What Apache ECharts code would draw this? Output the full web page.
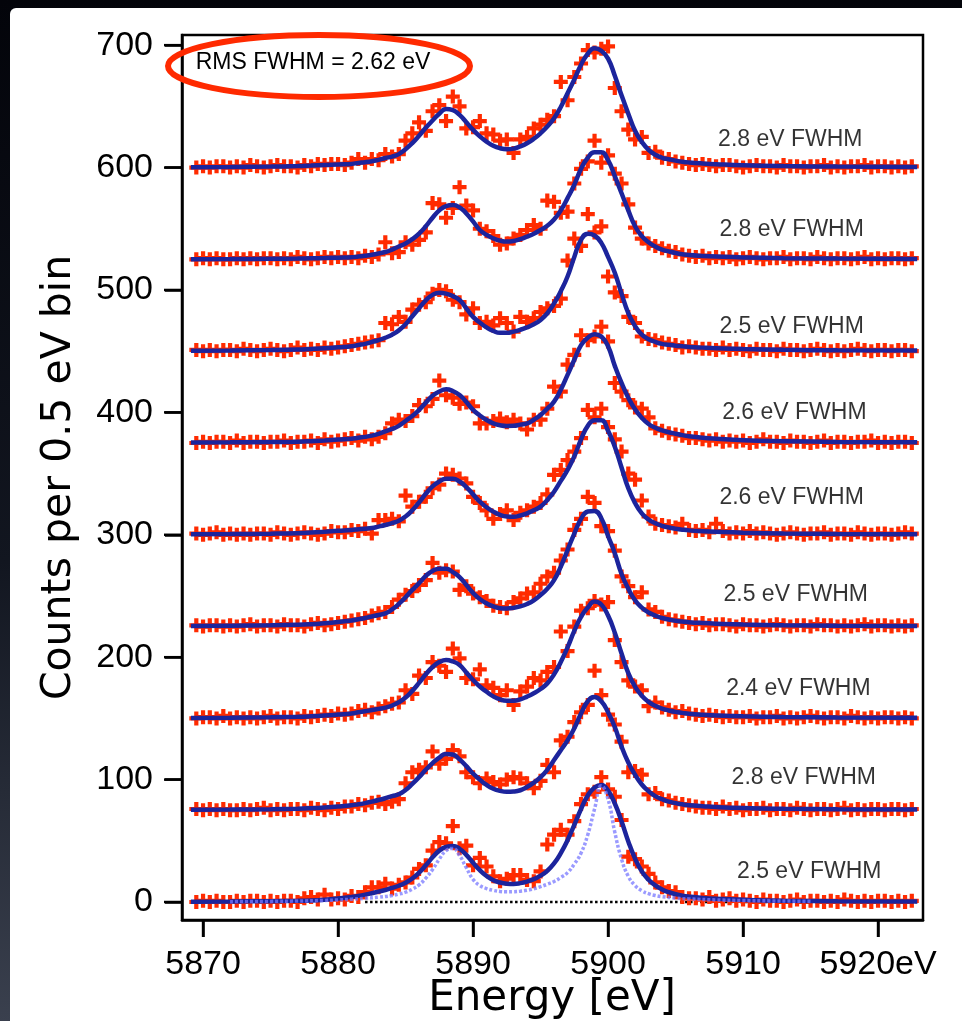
<!DOCTYPE html>
<html><head><meta charset="utf-8">
<script src="https://cdn.jsdelivr.net/npm/echarts@6.0.0/dist/echarts.min.js"></script>
<style>
html,body{margin:0;padding:0;width:962px;height:1021px;overflow:hidden;background:linear-gradient(to bottom,#03040a 0%,#121620 55%,#3a404e 100%);}
#paper{position:absolute;left:10px;top:8px;width:952px;height:1013px;background:#fff;border-top-left-radius:6px;}
#chart{position:absolute;left:0;top:0;width:962px;height:1021px;}
</style></head><body><div id="paper"></div><div id="chart"></div>
<script>
// ---- data ----
const ENERGY = [5869.5,5870,5870.5,5871,5871.5,5872,5872.5,5873,5873.5,5874,5874.5,5875,5875.5,5876,5876.5,5877,5877.5,5878,5878.5,5879,5879.5,5880,5880.5,
5881,5881.5,5882,5882.5,5883,5883.5,5884,5884.5,5885,5885.5,5886,5886.5,5887,5887.5,5888,5888.5,5889,5889.5,5890,5890.5,5891,5891.5,5892,5892.5,5893,5893.5,5894,5894.5,5895,5895.5,5896,5896.5,5897,5897.5,5898,5898.5,5899,5899.5,5900,5900.5,5901,5901.5,5902,5902.5,5903,5903.5,5904,5904.5,5905,5905.5,5906,
5906.5,5907,5907.5,5908,5908.5,5909,5909.5,5910,5910.5,5911,5911.5,5912,5912.5,5913,5913.5,5914,5914.5,5915,5915.5,5916,5916.5,5917,5917.5,5918,5918.5,5919,5919.5,5920,5920.5,5921,5921.5,5922,5922.5];

const OFFSETS = [0,75,150,225,300,375,450,525,600];
const FWHM_LABELS = ['2.5','2.8','2.4','2.5','2.6','2.6','2.5','2.8','2.8'];

const counts0 = [0,1,0,1,0,0,1,0,1,1,0,1,0,1,1,0,3,4,2,6,2,3,2,
5,4,8,12,12,15,11,14,16,20,27,30,42,49,48,62,44,46,30,36,29,21,17,19,22,22,18,17,25,47,55,59,55,66,80,88,90,102,92,86,67,37,35,29,23,16,12,9,8,4,3,
3,2,4,1,2,3,1,2,1,0,2,1,1,0,1,2,0,1,1,0,1,0,2,1,0,1,0,1,1,0,1,0,1];
const counts1 = [1,0,1,0,1,0,0,1,0,1,2,0,1,0,1,1,0,2,1,0,2,1,3,
3,5,4,6,7,5,7,9,22,31,33,35,48,38,42,49,44,31,27,22,26,23,21,25,27,26,22,18,24,37,31,57,60,72,80,86,114,94,78,70,56,31,32,29,13,14,9,8,6,5,4,
3,2,2,1,3,1,2,0,1,1,2,0,1,1,0,2,1,0,1,1,0,1,2,0,1,0,1,1,0,1,1,0,1];
const counts2 = [0,1,1,0,2,0,1,0,1,0,1,2,0,1,1,0,2,1,2,3,2,4,3,
4,6,7,5,8,10,12,13,23,20,35,33,46,43,38,57,49,33,32,40,27,25,19,23,11,22,26,33,31,38,42,71,55,75,88,90,96,93,95,64,46,31,26,23,10,13,9,7,5,6,4,
3,2,3,2,1,2,1,1,2,0,1,1,2,0,1,0,1,2,1,0,1,1,0,2,1,0,1,0,1,1,0,1,0];
const counts3 = [1,0,1,1,0,1,0,1,2,0,1,1,0,2,1,1,0,2,3,1,2,3,4,
5,6,7,9,11,12,16,22,26,29,34,38,52,44,46,45,30,33,27,24,21,17,16,15,20,23,27,28,35,41,44,54,63,79,88,106,101,82,78,62,41,33,24,28,14,12,8,6,5,4,3,
2,3,1,2,2,1,0,2,1,1,0,1,2,1,0,1,1,0,2,1,1,0,1,0,1,2,0,1,1,0,1,0,1];
const counts4 = [1,0,1,2,0,1,0,1,0,1,1,0,2,1,0,1,2,1,0,1,3,2,2,
4,3,5,1,12,12,13,11,32,23,27,31,38,41,50,49,46,42,31,26,20,13,17,20,12,18,20,23,26,33,49,53,61,68,79,102,96,103,88,78,68,50,45,28,15,9,8,7,6,9,4,
3,4,2,9,3,1,2,1,3,1,2,1,0,1,2,1,0,1,1,2,0,1,1,0,2,1,0,1,1,0,1,2,1];
const counts5 = [0,1,0,1,1,0,2,0,1,1,0,1,1,2,0,1,1,2,0,3,1,2,3,
4,2,5,3,5,8,16,19,18,22,31,30,36,51,39,37,32,33,30,16,16,18,20,17,19,16,11,19,19,28,46,42,64,72,88,84,87,95,83,49,42,35,29,28,21,12,10,8,7,6,4,
4,3,2,3,1,2,1,2,0,1,3,1,1,0,2,1,1,0,1,2,0,1,1,0,1,1,2,0,1,0,1,1,0];
const counts6 = [1,0,1,0,1,1,0,2,1,0,1,2,1,0,1,3,1,2,1,3,2,3,4,
5,6,7,8,9,23,22,28,24,34,38,40,47,50,49,42,40,30,35,23,24,21,27,23,16,28,24,27,32,35,37,43,74,92,86,112,97,102,61,48,45,28,23,12,10,9,7,6,5,3,4,
3,2,2,1,3,1,2,1,0,2,1,1,0,2,1,1,0,1,2,1,0,1,0,1,2,1,0,1,1,0,1,1,0];
const counts7 = [0,1,0,1,0,0,1,0,1,0,1,1,0,1,0,2,1,0,1,2,1,2,1,
2,1,3,2,4,14,5,6,14,12,16,22,46,45,34,42,59,44,40,25,23,19,12,13,17,20,24,28,25,48,47,38,39,62,74,80,97,79,85,70,62,45,26,17,13,11,9,7,6,4,3,
2,3,1,2,1,2,0,1,2,1,0,1,1,2,0,1,1,0,2,1,0,1,1,0,1,2,0,1,0,1,1,0,1];
const counts8 = [0,1,0,1,1,0,1,0,2,1,0,1,2,1,1,0,2,1,3,2,3,3,2,
4,7,4,7,6,11,9,11,22,28,37,30,46,51,38,58,50,32,33,38,28,27,22,23,12,23,25,32,35,39,42,70,55,74,85,96,94,97,99,65,46,31,23,25,12,13,8,7,5,4,3,
2,3,2,1,2,2,1,0,1,2,1,1,0,2,1,1,0,1,1,2,0,1,0,1,1,2,0,1,1,0,1,0,1];

const FIT_ENERGY = [5869.1,5872,5875,5877,5878,5879,5880,
5881,5881.5,5882,5882.5,5883,5883.5,5884,5884.5,5885,5885.5,5886,5886.5,5887,5887.5,5888,5888.5,5889,5889.5,5890,5890.5,5891,5891.5,5892,5892.5,5893,5893.5,5894,5894.5,5895,5895.5,5896,5896.5,5897,5897.5,5898,5898.5,5899,5899.5,5900,5900.5,5901,5901.5,5902,5902.5,5903,5903.5,5904,5904.5,5905,5905.5,5906,
5907,5908,5910,5913,5917,5922.9];

const fit0 = [0.3,0.4,0.7,1.0,1.3,1.9,2.8,
4.2,5,6,7.2,8.5,9.8,11.5,13.3,15.8,19.2,24,30,36.5,42,45,45.8,43.5,38.5,32,26,21.2,17.8,15.9,15,14.8,15.4,16.7,18.7,21.5,25.5,31.5,40,50.5,63,76,87,93.5,95.6,91,80.5,66,49.5,35.5,25,18.2,13.6,10.3,8,6.4,5.2,4.4,
3.3,2.6,1.8,1.1,0.7,0.4];
const fit1 = [0.4,0.5,0.8,1.2,1.6,2.2,3.0,
4,4.8,5.8,7,8.3,9.8,11.5,13,16.5,21.5,27,33,38.5,43,46,45.5,41.5,36,30,25,20.6,17.5,15.8,15.1,15.3,16.3,19,22.5,27,33,41,49,57,67,79,89,92.5,89,80,68,52,39,29,21,15.5,11.5,9,7,5.8,4.8,4,
3.3,2.6,1.8,1.2,0.8,0.5];
const fit2 = [0.4,0.6,0.9,1.3,1.7,2.3,3.1,
4,5,5.8,6.8,7.8,8.8,10.5,13.2,17,22.5,29,36,42,46,47.7,46.5,43.6,37.5,31.4,26,21.8,18,15.5,14.5,14.5,15.6,17.8,20.5,24,28.6,36,46,58,71.5,83,90.5,95.4,93,84,70,53,37,26,18.5,13.5,10.3,8,6.5,5.3,4.5,3.8,
3.0,2.4,1.7,1.1,0.7,0.5];
const fit3 = [0.5,0.7,1.0,1.5,2.0,2.8,3.8,
5,6,7,8.3,9.5,10.8,14,18.5,24,30,35.5,41.5,45.5,47.3,47.3,44.5,40.5,34,27.5,22.5,19,16.5,15,14.8,15.3,16.5,18.5,21.5,25.8,31,38,49,62.5,76,88,94,94.5,88.5,74,60,43,31,21.5,15.5,11.5,9,7,5.8,4.8,4.2,3.6,
2.9,2.4,1.7,1.1,0.7,0.5];
const fit4 = [0.4,0.6,0.9,1.3,1.8,2.5,3.3,
4,4.6,5,5.5,6.7,8,9.5,11.5,15,20,26.5,33.5,39.5,43.5,45.8,45.8,43.5,39,33,27,22.5,18.9,16.3,15,14.8,15.8,17.5,20,23,28.5,35.2,44,53,64,78,89,93.5,93.5,85,72,55,38,26,17.5,12.5,9.5,7.3,6,5,4.2,3.6,
2.9,2.4,1.7,1.1,0.7,0.5];
const fit5 = [0.3,0.5,0.8,1.1,1.5,2.1,2.8,
3.5,4.3,5,6,7.5,9.5,11.5,14,18,22,27,33,38.5,42,43.8,42.5,39.2,33.5,27,22.5,18.8,16,14.5,13.9,14,15,16,19,22.9,28,33.8,43.5,55.6,68,80,86,88.8,87,79,63,49,37,27.5,20.5,15.5,12.5,10.3,8.8,7.6,6.4,5.5,
4.3,3.5,2.3,1.5,0.9,0.5];
const fit6 = [0.4,0.6,0.9,1.3,1.8,2.4,3.2,
4,5,6,7.5,9,11,13.5,17,22,28.5,35,41.5,46,47.7,47,45,41.8,35,28,23.5,19.5,16.5,15,15,16,17.5,19.5,22,25.5,31,39,49,61,77,91,96,94.5,88.5,77,64,47,31,20.5,13.5,9.8,7.6,6,5.2,4.5,4,3.5,
2.9,2.4,1.7,1.1,0.7,0.5];
const fit7 = [0.2,0.3,0.5,0.7,0.9,1.1,1.4,
1.7,2.3,3,3.8,4.8,6,8,10.5,13,16.5,21,27,34,40,43.5,44.4,42.5,37.5,31,24,20,17.2,15.3,14.5,15,16.5,18.6,21,24,27.5,32.5,40,50,61,74,83,87.5,87.5,81,68,54,40,27,19,14,10.5,8,6.5,5.2,4.2,3.5,
2.8,2.3,1.6,1.0,0.7,0.4];
const fit8 = [0.3,0.5,0.8,1.2,1.6,2.1,2.6,
3,3.8,4.4,5.2,6.3,7.8,9,11,15,20,26,32.5,38.5,44,47.8,47,43,37,30.8,25.5,21.2,17.8,15.8,15,15.5,17.3,19.9,23.5,28,33.5,40.3,49.5,60.7,72,84,93,97.5,95.5,89,75,59,44,30,21,14.5,10.5,8,6.8,5.7,4.8,4.2,
3.4,2.8,1.9,1.2,0.8,0.5];

const INTRINSIC_ENERGY = [5872,5875,5877,5879,5880,5881,5882,5883,5884,
5884.5,5885,5885.5,5886,5886.5,5887,5887.5,5888,5888.5,5889,5889.5,5890,5890.5,5891,5891.5,5892,5892.5,5893,5893.5,5894,5894.5,5895,5895.5,5896,5896.5,5897,5897.5,5898,5898.5,5899,5899.5,5900,5900.5,5901,5901.5,5902,5902.5,5903,5903.5,5904,
5905,5906,5908,5910,5912,5915];
const intrinsic = [0.3,0.5,0.8,1.3,1.7,2.3,3,3.9,5.3,
6.5,8,10.5,14,19.5,26.5,35,42,43.8,38,28,18.5,13.5,11,9.5,8.6,8.3,8.4,8.8,9.6,10.8,12.5,14.5,16.8,20,24,31,40,55,76,95,84,57,35,21,13.5,9.3,6.8,5.3,4.4,
3.2,2.5,1.7,1.2,0.9,0.6];

const ZERO_LINE_E = [5882, 5923];
const ZERO_LINE_V = [0, 0];

const X_TICKS = [5870,5880,5890,5900,5910,5920];
const Y_TICKS = [0,100,200,300,400,500,600,700];

// label anchors (energy, height above each spectrum's offset)
const LABEL_E = [5914.9,5914.5,5914.1,5913.9,5913.6,5913.8,5913.6,5913.6,5913.5];
const LABEL_DY = [24.5,26.3,24,25.8,30,24.5,19.8,24,22.5];

// ---- build ----
const X_MIN = 5868.44, X_MAX = 5923.33, Y_MIN = -14.7, Y_MAX = 708.3;
const GRID = {left:182, top:35, right:39, bottom:101};
const TICK_PX = 17;
const COUNTS = [counts0,counts1,counts2,counts3,counts4,counts5,counts6,counts7,counts8];
const FITS = [fit0,fit1,fit2,fit3,fit4,fit5,fit6,fit7,fit8];
const CROSS = 'path://M4.9,0h4.2v4.9h4.9v4.2h-4.9v4.9h-4.2v-4.9h-4.9v-4.2h4.9z';
const RED = '#ff2b00', BLUE = '#1c249c';

const series = [];
series.push({
  type:'line', data: ZERO_LINE_E.map((e,i)=>[e, ZERO_LINE_V[i]]), symbol:'none', silent:true, z:1,
  lineStyle:{color:'#000', width:2.5, type:[2.5,2.5]}
});
COUNTS.forEach((arr,k)=>{
  series.push({
    type:'scatter', data: arr.map((c,i)=>[ENERGY[i], OFFSETS[k]+c]),
    symbol: CROSS, symbolSize: 14, itemStyle:{color:RED, opacity:1}, silent:true, z:2
  });
});
FITS.forEach((arr,k)=>{
  series.push({
    type:'line', data: arr.map((c,i)=>[FIT_ENERGY[i], OFFSETS[k]+c]), smooth:0.5,
    symbol:'none', silent:true, z:3, lineStyle:{color:BLUE, width:4.5}
  });
});
series.push({
  type:'line', data: intrinsic.map((c,i)=>[INTRINSIC_ENERGY[i], OFFSETS[0]+c]), smooth:0.5,
  symbol:'none', silent:true, z:4, lineStyle:{color:'rgba(120,120,255,0.75)', width:3.5, type:[3,2]}
});
series.push({
  type:'scatter', z:5, silent:true, symbolSize:1, itemStyle:{color:'rgba(0,0,0,0)'},
  data: FWHM_LABELS.map((t,k)=>({value:[LABEL_E[k], OFFSETS[k]+LABEL_DY[k]], name:t})),
  label:{show:true, position:'inside', formatter:'{b} eV FWHM', fontSize:23, fontFamily:'Liberation Sans', color:'#000', align:'center', verticalAlign:'middle'}
});

const baseGraphics = [
  {id:'xname', type:'text', z:100, x:552, y:999, style:{text:'Energy [eV]', fontSize:42, fontFamily:'DejaVu Sans', fill:'#000', align:'center', verticalAlign:'middle'}},
  {id:'rms', type:'text', z:100, x:313, y:63, style:{text:'RMS FWHM = 2.62 eV', fontSize:23, fontFamily:'Liberation Sans', fill:'#000', align:'center', verticalAlign:'middle'}},
  {id:'ring', type:'ellipse', z:101, shape:{cx:319, cy:66, rx:151, ry:31}, style:{fill:'none', stroke:'#ff2a00', lineWidth:6}}
];

const chart = echarts.init(document.getElementById('chart'), null, {renderer:'canvas'});
chart.setOption({
  animation:false,
  backgroundColor:'transparent',
  grid:{left:GRID.left, top:GRID.top, right:GRID.right, bottom:GRID.bottom, show:true, borderColor:'#000', borderWidth:2.5},
  xAxis:{
    type:'value', min:X_MIN, max:X_MAX,
    axisLine:{show:true, onZero:false, lineStyle:{color:'#000', width:2.5}},
    splitLine:{show:false},
    axisTick:{show:true, length:TICK_PX, lineStyle:{color:'#000', width:2.5}, customValues:X_TICKS},
    axisLabel:{customValues:X_TICKS, formatter:(v)=> v===5920 ? '5920eV' : String(v), fontSize:34, fontFamily:'Liberation Sans', color:'#000', margin:28}
  },
  yAxis:{
    type:'value', min:Y_MIN, max:Y_MAX,
    axisLine:{show:true, onZero:false, lineStyle:{color:'#000', width:2.5}},
    splitLine:{show:false},
    axisTick:{show:true, length:TICK_PX, lineStyle:{color:'#000', width:2.5}, customValues:Y_TICKS},
    axisLabel:{customValues:Y_TICKS, fontSize:34, fontFamily:'Liberation Sans', color:'#000', margin:29},
    name:'Counts per 0.5 eV bin', nameLocation:'middle', nameGap:102,
    nameTextStyle:{fontSize:41, fontFamily:'DejaVu Sans', color:'#000'}
  },
  graphic:{elements: baseGraphics},
  series: series
});

// Explicit outward tick marks, placed through the chart's own axis scales
// (fallback to the grid's linear mapping only if conversion is unavailable).
function toPixel(x, y){
  let p = null;
  try { p = chart.convertToPixel({xAxisIndex:0, yAxisIndex:0}, [x, y]); } catch(e) { p = null; }
  if (!p || !isFinite(p[0]) || !isFinite(p[1])) {
    const w = 962 - GRID.left - GRID.right, h = 1021 - GRID.top - GRID.bottom;
    p = [GRID.left + (x - X_MIN) / (X_MAX - X_MIN) * w, GRID.top + (Y_MAX - y) / (Y_MAX - Y_MIN) * h];
  }
  return p;
}
let ticksDone = false;
function addTicks(){
  if (ticksDone) return;
  ticksDone = true;
  const els = baseGraphics.slice();
  X_TICKS.forEach((v,i)=>{
    const p = toPixel(v, Y_MIN);
    els.push({id:'xt'+i, type:'line', z:120, shape:{x1:p[0], y1:p[1], x2:p[0], y2:p[1]+TICK_PX}, style:{stroke:'#000', lineWidth:2.5}});
  });
  Y_TICKS.forEach((v,i)=>{
    const p = toPixel(X_MIN, v);
    els.push({id:'yt'+i, type:'line', z:120, shape:{x1:p[0]-TICK_PX-1, y1:p[1], x2:p[0], y2:p[1]}, style:{stroke:'#000', lineWidth:2.5}});
  });
  chart.setOption({graphic:{elements: els}});
}
try { addTicks(); } catch(e) { ticksDone = false; chart.on('finished', function(){ try { addTicks(); } catch(err) {} }); }
</script>
</body></html>
